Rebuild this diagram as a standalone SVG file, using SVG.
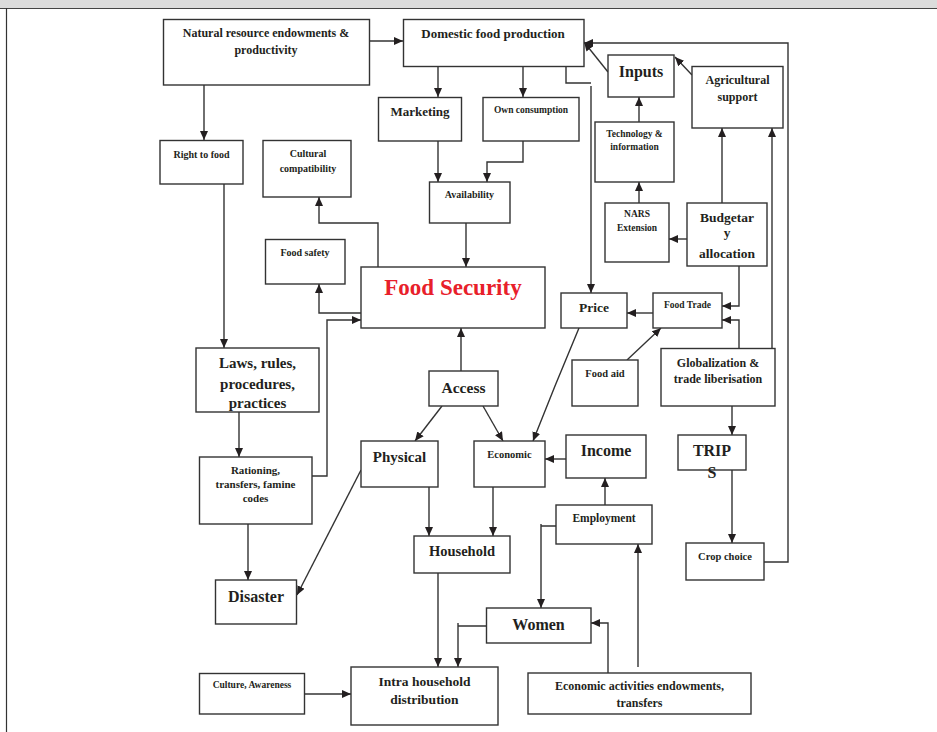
<svg xmlns="http://www.w3.org/2000/svg" width="937" height="732" viewBox="0 0 937 732">
<defs>
<style>
.box{fill:#fff;stroke:#333;stroke-width:1.4}
.t{font-family:"Liberation Serif","Times New Roman",serif;font-weight:bold;fill:#231f20;text-anchor:middle}
.c{fill:none;stroke:#333;stroke-width:1.4}
.a{marker-end:url(#ah)}
</style>
<marker id="ah" markerUnits="userSpaceOnUse" markerWidth="10" markerHeight="8" refX="9" refY="4" orient="auto">
<path d="M0,0 L9,4 L0,8 z" fill="#231f20"/>
</marker>
</defs>
<rect width="937" height="732" fill="#fff"/>
<rect x="0" y="0" width="937" height="8" fill="#dcdcdc"/>
<line x1="0" y1="8.5" x2="937" y2="8.5" stroke="#444" stroke-width="1.2"/>
<line x1="6.5" y1="8" x2="6.5" y2="732" stroke="#333" stroke-width="1.2"/>

<g id="connectors">
<path class="c a" d="M369,41 H403"/>
<path class="c a" d="M204,85 V140"/>
<path class="c a" d="M438,67 V97"/>
<path class="c a" d="M523,67 V97"/>
<path class="c a" d="M438,141 V182"/>
<path class="c a" d="M523,141 V162 H487 V182"/>
<path class="c a" d="M466,223 V267"/>
<path class="c a" d="M378,267 V223 H319 V197"/>
<path class="c a" d="M361,313 H319 V284"/>
<path class="c a" d="M312,476 H327 V320 H361"/>
<path class="c a" d="M224,184 V348"/>
<path class="c a" d="M239,412 V457"/>
<path class="c a" d="M248,524 V580"/>
<path class="c a" d="M361,470 Q330,530 297,595"/>
<path class="c a" d="M461,371 V328"/>
<path class="c a" d="M442,406 L415,441"/>
<path class="c a" d="M483,406 L503,441"/>
<path class="c a" d="M579,328 Q555,385 533,441"/>
<path class="c a" d="M566,459 H545"/>
<path class="c a" d="M605,505 V478"/>
<path class="c a" d="M556,526 H541 M541,524 V608"/>
<path class="c a" d="M486,626 H458 M458,623 V667"/>
<path class="c a" d="M429,487 V536"/>
<path class="c a" d="M493,487 V536"/>
<path class="c a" d="M438,573 V667"/>
<path class="c a" d="M305,694 H351"/>
<path class="c a" d="M608,673 V623 H591"/>
<path class="c a" d="M638,667 V544"/>
<path class="c a" d="M608,72 L584,42"/>
<path class="c a" d="M692,75 L675,57"/>
<path class="c a" d="M764,562 H788 V43 H584"/>
<path class="c a" d="M639,122 V97"/>
<path class="c a" d="M639,203 V182"/>
<path class="c a" d="M687,239 H669"/>
<path class="c a" d="M722,203 V128"/>
<path class="c a" d="M772,348 V128"/>
<path class="c" d="M566,67 V83 H591"/>
<path class="c a" d="M591,86 V293"/>
<path class="c a" d="M653,313 H627"/>
<path class="c a" d="M739,266 V306 H722"/>
<path class="c a" d="M739,348 V320 H722"/>
<path class="c a" d="M627,360 L661,328"/>
<path class="c a" d="M732,406 V435"/>
<path class="c a" d="M732,470 V543"/>
</g>

<g id="natural"><rect class="box" x="163.5" y="19.5" width="206" height="65.5"/>
<text class="t" font-size="12" x="266" y="37">Natural resource endowments &amp;</text>
<text class="t" font-size="12" x="266" y="54">productivity</text></g>

<g id="domestic"><rect class="box" x="403.5" y="19.5" width="180.5" height="47"/>
<text class="t" font-size="13" x="493" y="38">Domestic food production</text></g>

<g id="marketing"><rect class="box" x="378.5" y="97.5" width="83" height="43.5"/>
<text class="t" font-size="13" x="420" y="116">Marketing</text></g>

<g id="own"><rect class="box" x="483" y="97.5" width="96" height="43.5"/>
<text class="t" font-size="9.5" x="531" y="112.5">Own consumption</text></g>

<g id="availability"><rect class="box" x="429.5" y="182" width="80.5" height="41"/>
<text class="t" font-size="10" x="469.5" y="198">Availability</text></g>

<g id="right"><rect class="box" x="160" y="140.5" width="83" height="43.5"/>
<text class="t" font-size="10" x="201.5" y="157.5">Right to food</text></g>

<g id="cultural"><rect class="box" x="263" y="140.5" width="88" height="56.5"/>
<text class="t" font-size="10" x="308" y="157">Cultural</text>
<text class="t" font-size="10" x="308" y="171.5">compatibility</text></g>

<g id="foodsafety"><rect class="box" x="265.5" y="239.5" width="79.5" height="44.5"/>
<text class="t" font-size="10" x="305" y="255.5">Food safety</text></g>

<g id="foodsecurity"><rect class="box" x="361" y="267" width="184" height="61"/>
<text class="t" font-size="23" x="453" y="295" style="fill:#e8202a">Food Security</text></g>

<g id="laws"><rect class="box" x="196" y="348" width="123" height="64"/>
<text class="t" font-size="15" x="257.5" y="368">Laws, rules,</text>
<text class="t" font-size="15" x="257.5" y="388.5">procedures,</text>
<text class="t" font-size="15" x="257.5" y="408">practices</text></g>

<g id="rationing"><rect class="box" x="199.5" y="457" width="112.5" height="67"/>
<text class="t" font-size="11" x="255.5" y="474">Rationing,</text>
<text class="t" font-size="11" x="255.5" y="488">transfers, famine</text>
<text class="t" font-size="11" x="255.5" y="502">codes</text></g>

<g id="disaster"><rect class="box" x="215.5" y="580" width="81" height="44"/>
<text class="t" font-size="16" x="256" y="601.5">Disaster</text></g>

<g id="access"><rect class="box" x="429" y="371" width="69" height="35"/>
<text class="t" font-size="15.5" x="463.5" y="392.5">Access</text></g>

<g id="physical"><rect class="box" x="361" y="441" width="77" height="46"/>
<text class="t" font-size="15" x="399.5" y="462">Physical</text></g>

<g id="economic"><rect class="box" x="474" y="441" width="71" height="46"/>
<text class="t" font-size="10.5" x="509.5" y="457.5">Economic</text></g>

<g id="income"><rect class="box" x="566" y="435" width="80" height="43"/>
<text class="t" font-size="16" x="606" y="455.5">Income</text></g>

<g id="employment"><rect class="box" x="556" y="505" width="96" height="39"/>
<text class="t" font-size="11.5" x="604" y="522">Employment</text></g>

<g id="household"><rect class="box" x="414" y="536" width="96" height="37"/>
<text class="t" font-size="14.5" x="462" y="555.5">Household</text></g>

<g id="women"><rect class="box" x="486.5" y="608" width="104.5" height="35"/>
<text class="t" font-size="16" x="538.5" y="629.5">Women</text></g>

<g id="intra"><rect class="box" x="351" y="667" width="147" height="58"/>
<text class="t" font-size="13.5" x="424.5" y="686">Intra household</text>
<text class="t" font-size="13.5" x="424.5" y="704">distribution</text></g>

<g id="culture"><rect class="box" x="199.5" y="673.5" width="105" height="40.5"/>
<text class="t" font-size="9.5" x="252" y="688">Culture, Awareness</text></g>

<g id="econactivities"><rect class="box" x="528" y="673" width="223" height="41"/>
<text class="t" font-size="12" x="639.5" y="690">Economic activities endowments,</text>
<text class="t" font-size="12" x="639.5" y="707">transfers</text></g>

<g id="inputs"><rect class="box" x="608" y="55" width="66" height="42"/>
<text class="t" font-size="16" x="641" y="76.5">Inputs</text></g>

<g id="agri"><rect class="box" x="692" y="66.5" width="91" height="61.5"/>
<text class="t" font-size="12" x="737.5" y="84">Agricultural</text>
<text class="t" font-size="12" x="737.5" y="101">support</text></g>

<g id="tech"><rect class="box" x="595" y="122" width="79" height="60"/>
<text class="t" font-size="9.5" x="634.5" y="136.5">Technology &amp;</text>
<text class="t" font-size="9.5" x="634.5" y="149.5">information</text></g>

<g id="nars"><rect class="box" x="605" y="203" width="64" height="59"/>
<text class="t" font-size="9.5" x="637" y="216.5">NARS</text>
<text class="t" font-size="9.5" x="637" y="230.5">Extension</text></g>

<g id="budgetary"><rect class="box" x="687" y="203" width="80" height="63"/>
<text class="t" font-size="13.5" x="727" y="222">Budgetar</text>
<text class="t" font-size="13.5" x="727" y="237">y</text>
<text class="t" font-size="13.5" x="727" y="257.5">allocation</text></g>

<g id="price"><rect class="box" x="561" y="293" width="66" height="35"/>
<text class="t" font-size="13.5" x="594" y="312">Price</text></g>

<g id="foodtrade"><rect class="box" x="653" y="293" width="69" height="35"/>
<text class="t" font-size="9.5" x="687.5" y="308">Food Trade</text></g>

<g id="foodaid"><rect class="box" x="572" y="360" width="66" height="46"/>
<text class="t" font-size="10.5" x="605" y="376.5">Food aid</text></g>

<g id="globalization"><rect class="box" x="661" y="348.5" width="114" height="57.5"/>
<text class="t" font-size="12" x="718" y="366.5">Globalization &amp;</text>
<text class="t" font-size="12" x="718" y="382.5">trade liberisation</text></g>

<g id="trips"><rect class="box" x="678" y="435" width="68" height="35"/>
<text class="t" font-size="16" x="712" y="456">TRIP</text>
<text class="t" font-size="16" x="712" y="478">S</text></g>

<g id="crop"><rect class="box" x="686" y="543" width="78" height="37"/>
<text class="t" font-size="10.5" x="725" y="560">Crop choice</text></g>
</svg>
